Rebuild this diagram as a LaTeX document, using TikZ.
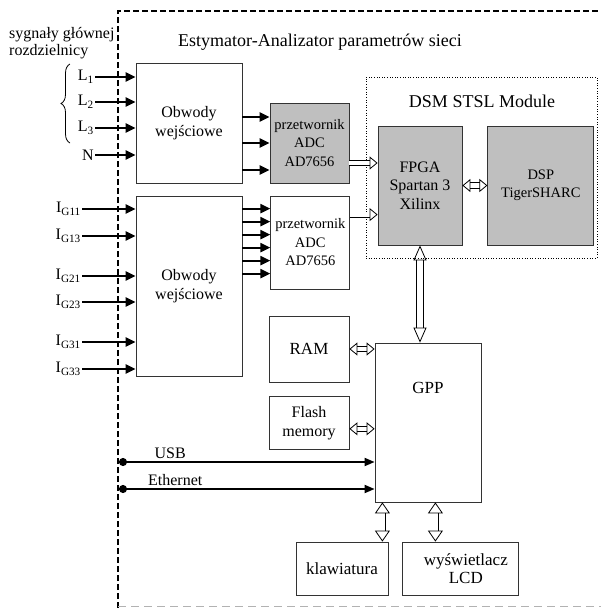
\documentclass[tikz,border=0pt]{standalone}
\usepackage{fontspec}
\setmainfont{Liberation Serif}
\usetikzlibrary{arrows.meta, positioning, decorations.pathreplacing}
\tikzstyle{block} = [rectangle, draw = black!80, line width = 0.8pt, align = center, inner sep = 1pt, font = \fontsize{16}{18.5}\selectfont]
\tikzstyle{grey block} = [block, fill = gray!50]
\tikzstyle{small text} = [font = \fontsize{14.5}{18.5}\selectfont]
\tikzstyle{big text} = [font = \fontsize{17}{18.5}\selectfont]
\tikzstyle{in label} = [anchor = east, inner sep = 1pt, font = \fontsize{16}{18}\selectfont]
\tikzstyle{sig} = [-{Triangle[length = 10pt, width = 9pt]}, line width = 2.2pt]
\tikzstyle{port} = [{Circle[length = 8pt]}-{Triangle[length = 10pt, width = 8pt]}, line width = 1.8pt]
\tikzstyle{bus} = [line width = 0.8pt, double, double distance = 4.5pt, {Triangle[open, length = 8pt, width = 13pt]}-{Triangle[open, length = 8pt, width = 13pt]}]
\tikzstyle{bus in} = [bus, -{Triangle[open, length = 8pt, width = 13pt]}]
\tikzstyle{tall bus} = [bus, double distance = 6pt, {Triangle[open, length = 11pt, width = 15pt]}-{Triangle[open, length = 11pt, width = 15pt]}]
\tikzstyle{wide bus} = [bus, double distance = 5.5pt, {Triangle[open, length = 15pt, width = 13pt]}-{Triangle[open, length = 15pt, width = 13pt]}]

\begin{document}
\begin{tikzpicture}[x = 1pt, y = -1pt]
        \useasboundingbox (0,0) rectangle (601,608);
        % draw frame of the analyser
        \draw[line width = 2.5pt, dash pattern = on 6pt off 3pt] (118,608) -- (118,11) -- (601,11);
        \draw[gray!60, line width = 0.8pt, dash pattern = on 8pt off 5pt] (118,606.5) -- (601,606.5);
        \node[font = \fontsize{18}{20}\selectfont] (title) at (320,42) {Estymator-Analizator parametrów sieci};
        \node[anchor = north west, align = left, inner sep = 0pt, font = \fontsize{16}{17}\selectfont] (sig) at (9,27) {sygnały głównej\\rozdzielnicy};

        % draw input blocks
        \node[block, minimum width = 106pt, minimum height = 120pt] (obw1) at (189,123) {Obwody\\wejściowe};
        \node[block, minimum width = 106pt, minimum height = 180pt] (obw2) at (189,286) {Obwody\\wejściowe};
        \node[grey block, small text, minimum width = 79pt, minimum height = 80pt] (adc1) at (309.5,143) {przetwornik\\ADC\\AD7656};
        \node[block, small text, minimum width = 79pt, minimum height = 93pt] (adc2) [right = 28pt of obw2.north east, anchor = north west] {przetwornik\\ADC\\AD7656};

        % draw DSM module
        \node[draw, dotted, line width = 0.6pt, minimum width = 231pt, minimum height = 181pt] (dsm) at (481.5,167.5) {};
        \node[font = \fontsize{18}{20}\selectfont] (dsmtitle) at (482,101) {DSM STSL Module};
        \node[grey block, minimum width = 84pt, minimum height = 119pt] (fpga) at (420,185.5) {FPGA\\Spartan 3\\Xilinx};
        \node[grey block, small text, minimum width = 106pt, minimum height = 119pt] (dsp) [right = 25pt of fpga] {DSP\\TigerSHARC};

        % draw processor and peripherals
        \node[block, minimum width = 106pt, minimum height = 159pt, label = {[below = 36pt, big text]north:GPP}] (gpp) at (428,422.5) {};
        \node[block, big text, minimum width = 80pt, minimum height = 66pt] (ram) at (309,349) {RAM};
        \node[block, minimum width = 80pt, minimum height = 53pt] (flash) [below = 14pt of ram] {Flash\\memory};
        \node[block, big text, minimum width = 92pt, minimum height = 53pt] (klaw) at (342,568.5) {klawiatura};
        \node[block, big text, minimum width = 116pt, minimum height = 53pt] (lcd) [right = 14pt of klaw] {\hspace*{10pt}wyświetlacz\\\hspace*{10pt}LCD};

        % draw input signals
        \draw[decorate, decoration = {brace, amplitude = 9pt}, line width = 0.8pt] (70,143) -- (70,64);
        \node[in label] (L1) at (95,77) {L\textsubscript{1}};
        \node[in label] (L2) at (95,102) {L\textsubscript{2}};
        \node[in label] (L3) at (95,128) {L\textsubscript{3}};
        \node[in label] (N) at (95,155) {N};
        \foreach \n in {L1, L2, L3, N}
            \draw[sig] (\n.east) -- (\n.east -| obw1.west);
        \node[in label] (IG11) at (82,209) {I\textsubscript{G11}};
        \node[in label] (IG13) at (82,236) {I\textsubscript{G13}};
        \node[in label] (IG21) at (82,276) {I\textsubscript{G21}};
        \node[in label] (IG23) at (82,302) {I\textsubscript{G23}};
        \node[in label] (IG31) at (82,342) {I\textsubscript{G31}};
        \node[in label] (IG33) at (82,369) {I\textsubscript{G33}};
        \foreach \n in {IG11, IG13, IG21, IG23, IG31, IG33}
            \draw[sig] (\n.east) -- (\n.east -| obw2.west);

        % draw arrows into the converters
        \foreach \s in {-26, 0, 27}
            \draw[sig] ([yshift = -\s pt]adc1.west -| obw1.east) -- ([yshift = -\s pt]adc1.west);
        \foreach \s in {13, 26, 39, 52, 65, 78}
            \draw[sig] ([yshift = -\s pt]obw2.north east) -- ([yshift = -\s pt]obw2.north east -| adc2.west);

        % draw buses
        \draw[bus in] ([yshift = -20pt]adc1.east) -- ([yshift = -20pt]adc1.east -| fpga.west);
        \draw[bus in] ([yshift = -19pt]adc2.north east) -- ([yshift = -19pt]adc2.north east -| fpga.west);
        \draw[bus] (fpga.east) -- (dsp.west);
        \draw[wide bus] (fpga.south) -- (fpga.south |- gpp.north);
        \draw[bus] (ram.east) -- (ram.east -| gpp.west);
        \draw[bus] ([yshift = -5.5pt]flash.east) -- ([yshift = -5.5pt]flash.east -| gpp.west);
        \draw[tall bus] ([xshift = -6pt]klaw.north east) -- ([xshift = -6pt]klaw.north east |- gpp.south);
        \draw[tall bus] ([xshift = 33pt]lcd.north west) -- ([xshift = 33pt]lcd.north west |- gpp.south);

        % draw communication ports
        \coordinate (usb) at (119,462);
        \coordinate (eth) at (119,489);
        \draw[port] (usb) -- (usb -| gpp.west) node[pos = 0.2, above = -1pt, font = \fontsize{16}{18}\selectfont] {USB};
        \draw[port] (eth) -- (eth -| gpp.west) node[pos = 0.22, above = -1pt, font = \fontsize{16}{18}\selectfont] {Ethernet};
    \end{tikzpicture}
\end{document}
